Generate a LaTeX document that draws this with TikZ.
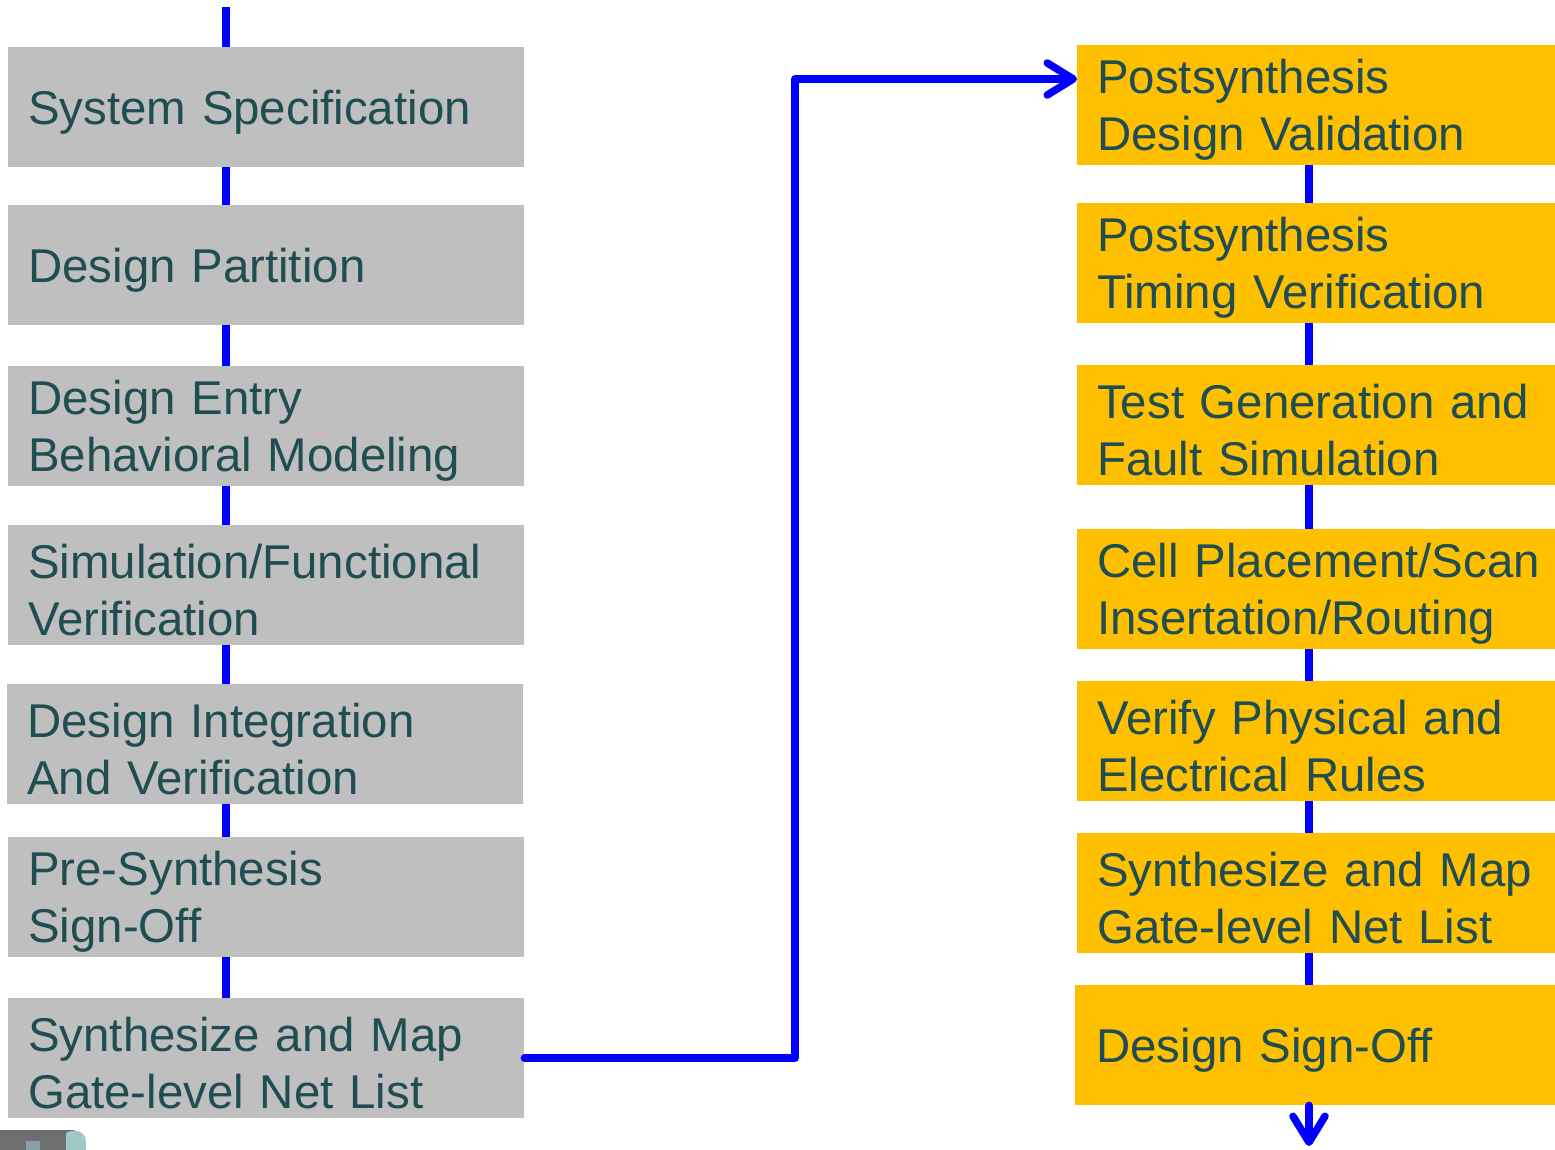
\documentclass[tikz,border=0pt]{standalone}
\usepackage{fontspec}
\setmainfont{Liberation Sans}
\usetikzlibrary{arrows.meta}

\definecolor{boxgrey}{HTML}{BFBFBF}
\definecolor{boxgold}{HTML}{FFC000}
\definecolor{inktext}{HTML}{1F4D52}
\definecolor{flowblue}{HTML}{0000FF}
\definecolor{icondark}{RGB}{110,110,110}
\definecolor{iconlight}{RGB}{160,200,200}
\definecolor{iconmid}{RGB}{135,160,165}

\tikzset{
  stage/.style={rectangle, anchor=north west, inner ysep=0pt,
    minimum height=120pt, align=left,
    text=inktext, font=\fontsize{47.4}{57}\selectfont,
    execute at begin node={\hyphenpenalty=10000\rule{0pt}{44pt}}},
  greystage/.style={stage, fill=boxgrey, inner xsep=20pt,
    text width=476pt},
  goldstage/.style={stage, fill=boxgold, inner xsep=20pt,
    text width=438pt},
  flow/.style={draw=flowblue, line width=7.5pt},
  flowtip/.style={flow, line cap=round, line join=round,
    -{Straight Barb[length=26pt, width=32pt, round]}},
}

\begin{document}
\begin{tikzpicture}[x=1pt, y=-1pt]
\useasboundingbox (0,0) rectangle (1555,1150);

% left column: specification down to the gate-level net list
\coordinate (ltop) at (226,7);
\draw[flow] (ltop) -- (226,60);
\node[greystage] (l1) at (8,47)  {System Specification};
\node[greystage] (l2) at (8,205) {Design Partition};
\node[greystage] (l3) at (8,366) {Design Entry\\Behavioral Modeling};
\node[greystage] (l4) at (8,525) {Simulation/Functional\\Verification};
\node[greystage] (l5) at (7,684) {Design Integration\\And Verification};
\node[greystage] (l6) at (8,837) {Pre-Synthesis\\Sign-Off};
\node[greystage] (l7) at (8,998) {Synthesize and Map\\Gate-level Net List};

\foreach \a/\b in {l1/l2, l2/l3, l3/l4, l4/l5, l5/l6, l6/l7}
  \draw[flow] (\a.south -| ltop) -- (\b.north -| ltop);

% right column: postsynthesis steps down to sign-off
\node[goldstage] (r1) at (1077,45)  {Postsynthesis\\Design Validation};
\node[goldstage] (r2) at (1077,203) {Postsynthesis\\Timing Verification};
\node[goldstage] (r3) at (1077,365) {\mbox{Test Generation and}\\Fault Simulation};
\node[goldstage] (r4) at (1077,529) {\mbox{Cell Placement/Scan}\\Insertation/Routing};
\node[goldstage] (r5) at (1077,681) {\mbox{Verify Physical and}\\Electrical Rules};
\node[goldstage] (r6) at (1077,833) {\mbox{Synthesize and Map}\\Gate-level Net List};
\node[goldstage, minimum width=480pt, inner xsep=21pt, text width=438pt]
  (r7) at (1075,985) {Design Sign-Off};

\coordinate (rx) at (1309,0);
\foreach \a/\b in {r1/r2, r2/r3, r3/r4, r4/r5, r5/r6, r6/r7}
  \draw[flow] (\a.south -| rx) -- (\b.north -| rx);

\coordinate (rend) at (1309,1146);
\draw[flowtip] (r7.south -| rx) -- (rend);

% hand-over from the left column to the right column
\coordinate (turn) at (795,79);
\draw[flowtip] (l7.east) -| (turn) -- (turn -| r1.west);

% corner of an icon at the lower left edge
\fill[icondark, rounded corners=12pt] (0,1130) rectangle (84,1170);
\fill[iconlight, rounded corners=10pt] (62,1131) rectangle (86,1170);
\fill[icondark] (0,1130) rectangle (66,1150);
\fill[iconmid] (26,1141) rectangle (40,1150);
\end{tikzpicture}
\end{document}
